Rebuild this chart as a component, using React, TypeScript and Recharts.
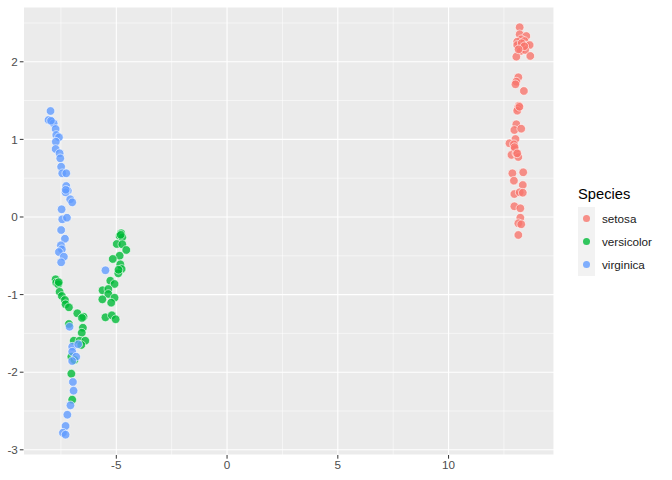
import { ScatterChart, Scatter, XAxis, YAxis, CartesianGrid, ReferenceLine } from "recharts";

const SPECIES = ["setosa", "versicolor", "virginica"];
const COLORS = ["#F8766D", "#00BA38", "#619CFF"];

const X_TICKS = [-5, 0, 5, 10];
const Y_TICKS = [-3, -2, -1, 0, 1, 2];
const X_MINOR = [-7.5, -2.5, 2.5, 7.5, 12.5];
const Y_MINOR = [-2.5, -1.5, -0.5, 0.5, 1.5, 2.5];

const setosa: [number, number][] = [
  [13.21, 2.445], [13.21, 2.354], [13.51, 2.332], [13.28, 2.29], [13.1, 2.259],
  [13.43, 2.268], [13.1, 2.216], [13.51, 2.207], [13.66, 2.216], [13.35, 2.174],
  [13.25, 2.139], [13.46, 2.152], [13.06, 2.066], [13.69, 2.075], [13.15, 1.8],
  [13.06, 1.744], [13.02, 1.71], [13.4, 1.624], [13.17, 1.434], [13.13, 1.4],
  [13.1, 1.37], [13.06, 1.195], [12.97, 1.121], [13.28, 1.138], [13.02, 1.005],
  [12.75, 0.95], [12.95, 0.937], [12.99, 0.876], [12.84, 0.8], [13.06, 0.821],
  [13.15, 0.773], [12.88, 0.563], [13.37, 0.576], [12.95, 0.468], [13.35, 0.412],
  [12.97, 0.296], [13.21, 0.318], [13.35, 0.313], [12.97, 0.138], [13.24, 0.112],
  [13.24, -0.009], [13.15, -0.081], [13.28, -0.094], [13.15, -0.232],
  [13.3, 2.24], [13.42, 2.2], [13.16, 2.16], [12.98, 0.9], [13.1, 0.82], [13.2, 1.42],
];

const versicolor: [number, number][] = [
  [-4.78, -0.21], [-4.85, -0.245], [-4.73, -0.262], [-4.98, -0.348], [-4.73, -0.352],
  [-4.55, -0.425], [-4.85, -0.499], [-5.16, -0.541], [-4.82, -0.61], [-4.76, -0.67],
  [-4.91, -0.726], [-5.27, -0.821], [-5.08, -0.863], [-5.62, -0.945], [-5.36, -0.928],
  [-5.36, -0.992], [-5.08, -1.04], [-5.63, -1.061], [-5.23, -1.104], [-5.49, -1.293],
  [-5.2, -1.267], [-5.03, -1.318],
  [-7.74, -0.803], [-7.71, -0.847], [-7.62, -0.867], [-7.56, -0.963], [-7.46, -1.018],
  [-7.32, -1.07], [-7.29, -1.125], [-7.14, -1.164], [-6.76, -1.241], [-6.48, -1.285],
  [-6.51, -1.427], [-6.56, -1.491], [-7.14, -1.379], [-6.92, -1.594], [-6.66, -1.594],
  [-6.4, -1.594], [-6.58, -1.649], [-7.03, -1.8], [-6.89, -1.843], [-7.03, -2.019],
  [-6.99, -2.354], [-4.8, -0.23], [-4.9, -0.68], [-7.6, -0.84], [-6.55, -1.3],
];

const virginica: [number, number][] = [
  [-7.97, 1.366], [-8.06, 1.25], [-7.91, 1.228], [-7.83, 1.207], [-7.74, 1.134],
  [-7.71, 1.057], [-7.59, 1.027], [-7.73, 0.97], [-7.74, 0.876], [-7.56, 0.821],
  [-7.53, 0.756], [-7.49, 0.648], [-7.44, 0.563], [-7.26, 0.563], [-7.26, 0.399],
  [-7.19, 0.339], [-7.29, 0.318], [-7.08, 0.228], [-6.99, 0.189], [-7.47, 0.099],
  [-7.44, -0.03], [-7.23, -0.009], [-7.49, -0.168], [-7.32, -0.28], [-7.5, -0.365],
  [-7.46, -0.416], [-7.59, -0.451], [-7.37, -0.512], [-7.49, -0.584], [-5.49, -0.687],
  [-7.11, -1.414], [-6.99, -1.671], [-6.72, -1.64], [-6.99, -1.736], [-6.81, -1.8],
  [-6.99, -1.856], [-6.96, -2.126], [-6.93, -2.238], [-7.07, -2.427], [-7.21, -2.548],
  [-7.29, -2.693], [-7.41, -2.78], [-7.29, -2.805], [-7.95, 1.24], [-7.28, 0.35],
];

const SERIES = [setosa, versicolor, virginica].map(pts => pts.map(([x, y]) => ({ x, y })));

const FONT = "Liberation Sans, Arial, sans-serif";
const axisText = { fill: "#4D4D4D", fontSize: 11.7, fontFamily: FONT };

function Dot(props: any) {
  return (
    <circle cx={props.cx} cy={props.cy} r={4.3} fill={props.fill} fillOpacity={0.8}
      stroke="#ffffff" strokeWidth={0.6} />
  );
}

function SpeciesLegend() {
  return (
    <div style={{ position: "absolute", left: 578, top: 186, fontFamily: FONT }}>
      <div style={{ fontSize: 14.7, color: "#000", marginBottom: 5 }}>Species</div>
      {SPECIES.map((s, i) => (
        <div key={s} style={{ display: "flex", alignItems: "center", height: 23 }}>
          <div style={{ width: 17, height: 23, background: "#F2F2F2", display: "flex", alignItems: "center", justifyContent: "center" }}>
            <div style={{ width: 7, height: 7, borderRadius: 4, background: COLORS[i], opacity: 0.8 }} />
          </div>
          <span style={{ fontSize: 11.7, color: "#1a1a1a", marginLeft: 7 }}>{s}</span>
        </div>
      ))}
    </div>
  );
}

export default function App() {
  return (
    <div style={{ position: "absolute", left: 0, top: 0, width: 672, height: 480, background: "#fff" }}>
      <ScatterChart width={672} height={480} margin={{ top: 7, right: 118, bottom: 0, left: 0 }}>
        <CartesianGrid fill="#EBEBEB" stroke="#ffffff" strokeWidth={1.07} />
        {X_MINOR.map(v => <ReferenceLine key={"x" + v} x={v} stroke="#ffffff" strokeWidth={0.53} />)}
        {Y_MINOR.map(v => <ReferenceLine key={"y" + v} y={v} stroke="#ffffff" strokeWidth={0.53} />)}
        <XAxis type="number" dataKey="x" domain={[-9.19, 14.76]} ticks={X_TICKS} allowDataOverflow
          axisLine={false} tickLine={{ stroke: "#333333", strokeWidth: 1 }} tickSize={3.7} tickMargin={2}
          height={25} tick={axisText} />
        <YAxis type="number" dataKey="y" domain={[-3.067, 2.706]} ticks={Y_TICKS} allowDataOverflow
          axisLine={false} tickLine={{ stroke: "#333333", strokeWidth: 1 }} tickSize={3.7} tickMargin={2}
          width={23.5} tick={axisText} />
        {SERIES.map((data, i) => (
          <Scatter key={SPECIES[i]} name={SPECIES[i]} data={data} fill={COLORS[i]}
            shape={Dot} isAnimationActive={false} />
        ))}
      </ScatterChart>
      <SpeciesLegend />
    </div>
  );
}
